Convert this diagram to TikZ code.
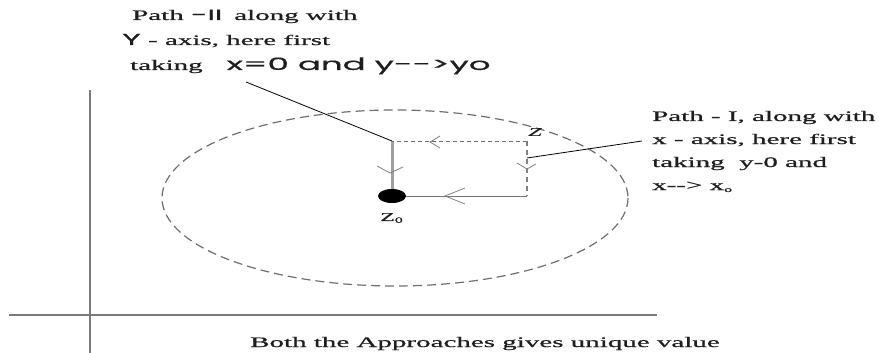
\documentclass[tikz,border=0pt]{standalone}
\usepackage{graphicx}
\usepackage{fontspec}
\setmainfont{Liberation Serif}[FakeBold=0.6]
\newfontfamily\popp{Poppins}[FakeBold=0.5]
\usetikzlibrary{shapes.geometric}
\newcommand{\sx}[1]{\scalebox{2}[1]{#1}}
\definecolor{txt}{HTML}{1E1E1E}
\definecolor{axgray}{HTML}{7A7A7A}
\definecolor{dashgray}{HTML}{6E6E6E}
\begin{document}
\begin{tikzpicture}[x=1pt,y=-1pt,
  lbl/.style={inner sep=0pt, anchor=base west, text=txt, font=\fontsize{14.5}{17}\selectfont},
  axis/.style={draw=axgray, line width=1.8pt},
  circ/.style={draw=dashgray, line width=1.2pt, dash pattern=on 9pt off 5pt},
  leader/.style={draw=black, line width=0.8pt},
  chev/.style={draw=gray, line width=0.8pt},
  dot/.style={ellipse, fill=black, minimum width=28pt, minimum height=14pt, inner sep=0pt}]
\useasboundingbox (0,0) rectangle (879,353);
% axes
\coordinate (yaxT) at (90,90);
\coordinate (yaxB) at (90,353);
\coordinate (xaxL) at (9,315);
\coordinate (xaxR) at (657,315);
\draw[axis] (yaxT) -- (yaxB);
\draw[axis] (xaxL) -- (xaxR);
% dashed circle
\draw[circ] (395,198) ellipse [x radius=233, y radius=88];
% path corners
\coordinate (A) at (392,141);
\coordinate (Zc) at (527,141);
\coordinate (B) at (527,196);
\coordinate (Z0) at (392,196);
\draw[draw=gray!75, line width=3pt] (A) -- (Z0);
\draw[draw=dashgray, line width=0.9pt, dash pattern=on 4pt off 3pt] (Zc) -- (A);
\draw[draw=gray, line width=1.2pt, dash pattern=on 5pt off 4pt] (Zc) -- (B);
\draw[draw=gray!90!black, line width=1pt] (B) -- (Z0);
\node[dot] (z0) at (Z0) {};
% chevrons
\draw[chev] (377,166) -- (390,173) -- (403,167);
\draw[chev] (440,136) -- (430,142) -- (440,148);
\draw[chev] (517,163) -- (527,169) -- (536,164);
\draw[chev] (465,188) -- (445,196) -- (465,204);
% labels on diagram
\node[inner sep=0pt, text=txt, font=\fontsize{12}{14}\selectfont] (zl) at (535,132) {\sx{\textit{Z}}};
\node[inner sep=0pt, text=txt, font=\fontsize{12}{14}\selectfont] (z0l) at (392,218) {\sx{Z\textsubscript{0}}};
% top text
\node[lbl] (t1) at (132,20) {\sx{Path {\popp\fontsize{15}{17}\selectfont -II}\hspace{6pt}along with}};
\node[lbl] (t2) at (122,45) {\sx{{\popp\fontsize{16}{17}\selectfont Y} - axis, here first}};
\node[lbl] (t3) at (130,70) {\sx{taking\hspace{12pt}{\popp\fontsize{17}{17}\selectfont x=0 and y-{}->yo}}};
\coordinate (lt) at (246,82);
\draw[leader] (lt) -- (A);
% right text
\node[lbl] (r1) at (652,121) {\sx{Path - I, along with}};
\node[lbl] (r2) at (652,144) {\sx{x - axis, here first}};
\node[lbl] (r3) at (652,167) {\sx{taking\ \ y-0 and}};
\node[lbl] (r4) at (652,190) {\sx{x-{}-> x\raisebox{-2pt}{\fontsize{8}{9}\selectfont o}}};
\coordinate (lr1) at (527,158);
\coordinate (lr2) at (642,141);
\draw[leader] (lr1) -- (lr2);
% bottom text
\node[lbl] (bt) at (250,347) {\sx{Both the Approaches gives unique value}};
\end{tikzpicture}
\end{document}
